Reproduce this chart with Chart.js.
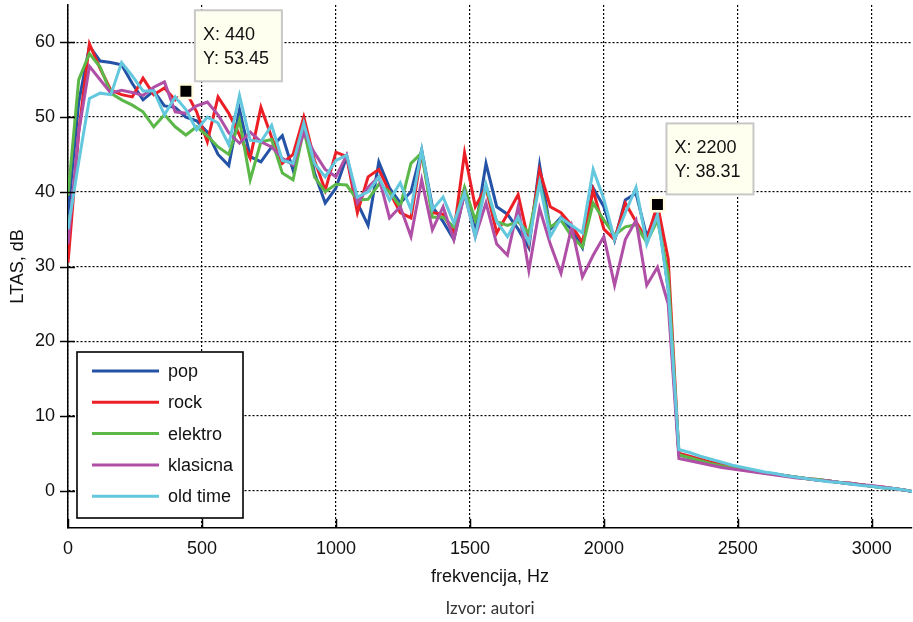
<!DOCTYPE html>
<html>
<head>
<meta charset="utf-8">
<script src="https://cdn.jsdelivr.net/npm/chart.js@4.4.1/dist/chart.umd.min.js"></script>
<style>
  html, body { margin: 0; padding: 0; background: #fff; overflow: hidden; }
  #wrap { position: relative; width: 913px; height: 622px; }
  #source {
    position: absolute; left: 390px; width: 200px; top: 597px;
    text-align: center; font-family: Lato, "Open Sans", sans-serif;
    font-size: 17px; color: #333;
  }
</style>
</head>
<body>
<div id="wrap">
  <canvas id="ltas" width="913" height="622"></canvas>
  <div id="source">Izvor: autori</div>
</div>
<script>
// frequency bins (Hz)
const freqs = [
  0, 40, 80, 120, 160, 200, 240, 280, 320, 360, 400, 440, 480, 520, 560, 600,
  640, 680, 720, 760, 800, 840, 880, 920, 960, 1000, 1040, 1080, 1120, 1160, 1200, 1240,
  1280, 1320, 1360, 1400, 1440, 1480, 1520, 1560, 1600, 1640, 1680, 1720, 1760, 1800, 1840, 1880,
  1920, 1960, 2000, 2040, 2080, 2120, 2160, 2200, 2240, 2280, 2320, 2360, 2400, 2440, 2480, 2520,
  2560, 2600, 2640, 2680, 2720, 2760, 2800, 2840, 2880, 2920, 2960, 3000, 3040, 3080, 3120, 3160
];

const pop = [
  37, 52, 59.5, 57.5, 57.3, 57, 54.5, 52.3, 53.5, 51.5, 51.3, 50, 49.5, 48, 45, 43.5,
  51, 44.7, 44, 46, 47.5, 42.9, 49.6, 42.5, 38.5, 40.5, 44.7, 38.5, 35.5, 44, 40.5, 38.5,
  40, 45.6, 38, 36, 33.6, 39.8, 34.9, 43.8, 38, 37, 35, 32.5, 43.6, 35, 36.6, 34.9,
  32.5, 40.5, 38, 33.5, 38.9, 39.8, 34, 37.5, 27, 4.8, 4.4, 4.0, 3.7, 3.4, 3.1, 2.8,
  2.6, 2.4, 2.2, 2.0, 1.8, 1.6, 1.4, 1.3, 1.1, 0.9, 0.8, 0.6, 0.4, 0.3, 0.1, -0.2
];
const rock = [
  30.5, 48, 59.8, 56.5, 53.6, 53, 52.7, 55.2, 53, 53.9, 52.3, 53.45, 50.7, 46.7, 52.7, 50.5,
  47.6, 44.5, 51.3, 47.3, 43.8, 45, 50, 44.2, 40.2, 45.3, 44.7, 37.2, 42, 43, 40, 37.2,
  36.5, 45.2, 37.2, 37, 34.5, 45.2, 38, 40.6, 34.5, 37, 39.6, 33.2, 42.9, 38, 37.2, 35.5,
  33.2, 40.2, 35, 33.6, 38.5, 36, 33.6, 38.31, 31, 5, 4.6, 4.2, 3.8, 3.5, 3.2, 2.9,
  2.6, 2.4, 2.2, 2.0, 1.8, 1.6, 1.5, 1.3, 1.1, 1.0, 0.8, 0.6, 0.5, 0.3, 0.1, -0.2
];
const elektro = [
  39.5, 55, 58.5, 56.7, 53.2, 52.3, 51.6, 50.7, 48.7, 50.3, 48.7, 47.6, 48.7, 47.5, 46, 45,
  49.6, 41.6, 46.7, 47, 42.5, 41.6, 48.3, 42, 40, 41, 40.9, 38.9, 39, 41, 40, 38,
  43.8, 45.2, 36.6, 36.6, 35.3, 40.6, 36.2, 40.6, 36, 35.5, 36, 34.5, 41.2, 35.3, 36.2, 34,
  32.6, 38.5, 36.2, 34.2, 35.3, 35.6, 33.2, 36.2, 29, 4.8, 4.4, 4.0, 3.6, 3.3, 3.0, 2.8,
  2.6, 2.4, 2.2, 2.0, 1.8, 1.6, 1.5, 1.3, 1.1, 1.0, 0.8, 0.6, 0.4, 0.3, 0.1, -0.2
];
const klasicna = [
  33, 48, 56.8, 55, 53.2, 53.6, 53.3, 52.9, 54, 54.7, 50.7, 50.5, 51.5, 52, 50.3, 47.9,
  46.5, 48, 46.7, 46, 44.5, 43.6, 47.9, 45.2, 43, 42, 44.9, 38.5, 40.6, 42, 36.5, 38,
  34, 41.6, 34.9, 38, 33.6, 39.8, 34, 38.5, 33, 31.5, 38, 29.5, 37.8, 33, 29.1, 35.3,
  28.6, 31.5, 34, 27.5, 33.6, 36.2, 27.5, 29.9, 25, 4.3, 4.0, 3.7, 3.4, 3.1, 2.9, 2.7,
  2.5, 2.3, 2.1, 1.9, 1.7, 1.6, 1.4, 1.3, 1.1, 1.0, 0.8, 0.7, 0.5, 0.3, 0.1, -0.2
];
const oldTime = [
  35, 44, 52.5, 53.2, 53, 57.3, 55.5, 53.5, 53.5, 50.3, 52.7, 51, 48.3, 50, 49.2, 46.3,
  52.9, 46.9, 46.7, 48.9, 44.2, 43.8, 49.2, 43.8, 42, 44.2, 44.9, 39.3, 40, 42, 38.9, 41.2,
  37.6, 45.6, 37.6, 39.3, 35.8, 39.8, 34, 41, 36, 34, 36.6, 33.2, 41.2, 34, 36.5, 35.5,
  34.5, 43, 39, 33.6, 37.2, 40.6, 33, 36.9, 27, 5.5, 5.1, 4.6, 4.2, 3.8, 3.4, 3.1,
  2.8, 2.5, 2.3, 2.0, 1.8, 1.6, 1.4, 1.2, 1.1, 0.9, 0.7, 0.6, 0.4, 0.3, 0.1, -0.2
];

const seriesNames = ["pop", "rock", "elektro", "klasicna", "old time"];
const seriesColors = ["#2352a6", "#ec1f27", "#5bb848", "#b04fa6", "#63c8dd"];

// data tips
const tipX = [440, 2200];
const tipY = [53.45, 38.31];

const xTicks = [0, 500, 1000, 1500, 2000, 2500, 3000];
const yTicks = [0, 10, 20, 30, 40, 50, 60];

const FONT = "'Liberation Sans', Arial, sans-serif";

function toPoints(values) {
  return freqs.map((f, i) => ({ x: f, y: values[i] }));
}

const allSeries = [pop, rock, elektro, klasicna, oldTime];
const datasets = allSeries.map((vals, k) => ({
  label: seriesNames[k],
  data: toPoints(vals),
  borderColor: seriesColors[k],
  backgroundColor: seriesColors[k],
  borderWidth: 3,
  pointRadius: 0,
  tension: 0,
  order: allSeries.length - k + 1
}));

datasets.push({
  type: "scatter",
  isTip: true,
  data: tipX.map((x, i) => ({ x: x, y: tipY[i] })),
  pointStyle: "rect",
  pointRadius: 9.5,
  backgroundColor: "#000",
  borderColor: "#fffbe0",
  borderWidth: 2.5,
  order: 0
});

// ticks, legend box and data tip labels
const overlay = {
  id: "overlay",
  afterDraw(chart) {
    const ctx = chart.ctx;
    const xs = chart.scales.x, ys = chart.scales.y;
    const area = chart.chartArea;
    ctx.save();

    ctx.strokeStyle = "#000";
    ctx.lineWidth = 1.5;
    ctx.setLineDash([]);
    xTicks.forEach(v => {
      const px = Math.round(xs.getPixelForValue(v)) + 0.5;
      ctx.beginPath();
      ctx.moveTo(px, area.bottom);
      ctx.lineTo(px, area.bottom - 9);
      ctx.stroke();
    });
    yTicks.forEach(v => {
      const py = Math.round(ys.getPixelForValue(v)) + 0.5;
      ctx.beginPath();
      ctx.moveTo(area.left - 8, py);
      ctx.lineTo(area.left + 7, py);
      ctx.stroke();
    });

    // legend
    const lg = { x: 77, y: 352, w: 166, h: 166, first: 371, row: 31.3 };
    ctx.fillStyle = "#fff";
    ctx.fillRect(lg.x, lg.y, lg.w, lg.h);
    ctx.lineWidth = 1.6;
    ctx.strokeStyle = "#000";
    ctx.strokeRect(lg.x, lg.y, lg.w, lg.h);
    ctx.font = "18px " + FONT;
    ctx.textBaseline = "middle";
    ctx.textAlign = "left";
    chart.data.datasets.filter(d => !d.isTip).forEach((d, k) => {
      const y = lg.first + k * lg.row;
      ctx.strokeStyle = d.borderColor;
      ctx.lineWidth = 3;
      ctx.beginPath();
      ctx.moveTo(lg.x + 15, y);
      ctx.lineTo(lg.x + 82, y);
      ctx.stroke();
      ctx.fillStyle = "#111";
      ctx.fillText(d.label, lg.x + 91, y + 1);
    });

    // data tip boxes
    tipX.forEach((fx, k) => {
      const px = xs.getPixelForValue(fx);
      const py = ys.getPixelForValue(tipY[k]);
      const bx = px + 9, by = py - 81, bw = 87, bh = 71;
      ctx.fillStyle = "#fffff0";
      ctx.fillRect(bx, by, bw, bh);
      ctx.strokeStyle = "#c8c8c8";
      ctx.lineWidth = 2;
      ctx.strokeRect(bx, by, bw, bh);
      ctx.fillStyle = "#111";
      ctx.fillText("X: " + fx, bx + 8, by + 25);
      ctx.fillText("Y: " + tipY[k], bx + 8, by + 49);
    });

    ctx.restore();
  }
};

new Chart(document.getElementById("ltas"), {
  type: "line",
  data: { datasets: datasets },
  options: {
    responsive: false,
    animation: false,
    layout: {
      autoPadding: false,
      padding: { top: 5, right: 1, left: 0, bottom: 0 }
    },
    plugins: {
      legend: { display: false },
      tooltip: { enabled: false }
    },
    scales: {
      x: {
        type: "linear",
        min: 0,
        max: 3150,
        afterFit: s => {
          s.height = 94;
          s.paddingLeft = 0;
          s.paddingRight = 0;
        },
        afterBuildTicks: s => { s.ticks = xTicks.map(v => ({ value: v })); },
        grid: { color: "#000", lineWidth: 1.2, drawTicks: false },
        border: { color: "#000", width: 1.5, dash: [2, 2] },
        ticks: {
          padding: 10,
          maxRotation: 0,
          autoSkip: false,
          color: "#111",
          font: { family: FONT, size: 18 },
          callback: v => String(v)
        },
        title: {
          display: true,
          text: "frekvencija, Hz",
          color: "#111",
          font: { family: FONT, size: 18 },
          padding: { top: 0, bottom: 34 }
        }
      },
      y: {
        min: -5,
        max: 65,
        afterFit: s => {
          s.width = 68;
          s.paddingTop = 0;
          s.paddingBottom = 0;
        },
        afterBuildTicks: s => { s.ticks = yTicks.map(v => ({ value: v })); },
        grid: { color: "#000", lineWidth: 1.2, drawTicks: false },
        border: { color: "#000", width: 1.5, dash: [2, 2] },
        ticks: {
          padding: 13,
          color: "#111",
          font: { family: FONT, size: 18 },
          callback: v => String(v)
        },
        title: {
          display: true,
          text: "LTAS, dB",
          color: "#111",
          font: { family: FONT, size: 18 },
          padding: { top: 7, bottom: 0 }
        }
      }
    }
  },
  plugins: [overlay]
});
</script>
</body>
</html>
